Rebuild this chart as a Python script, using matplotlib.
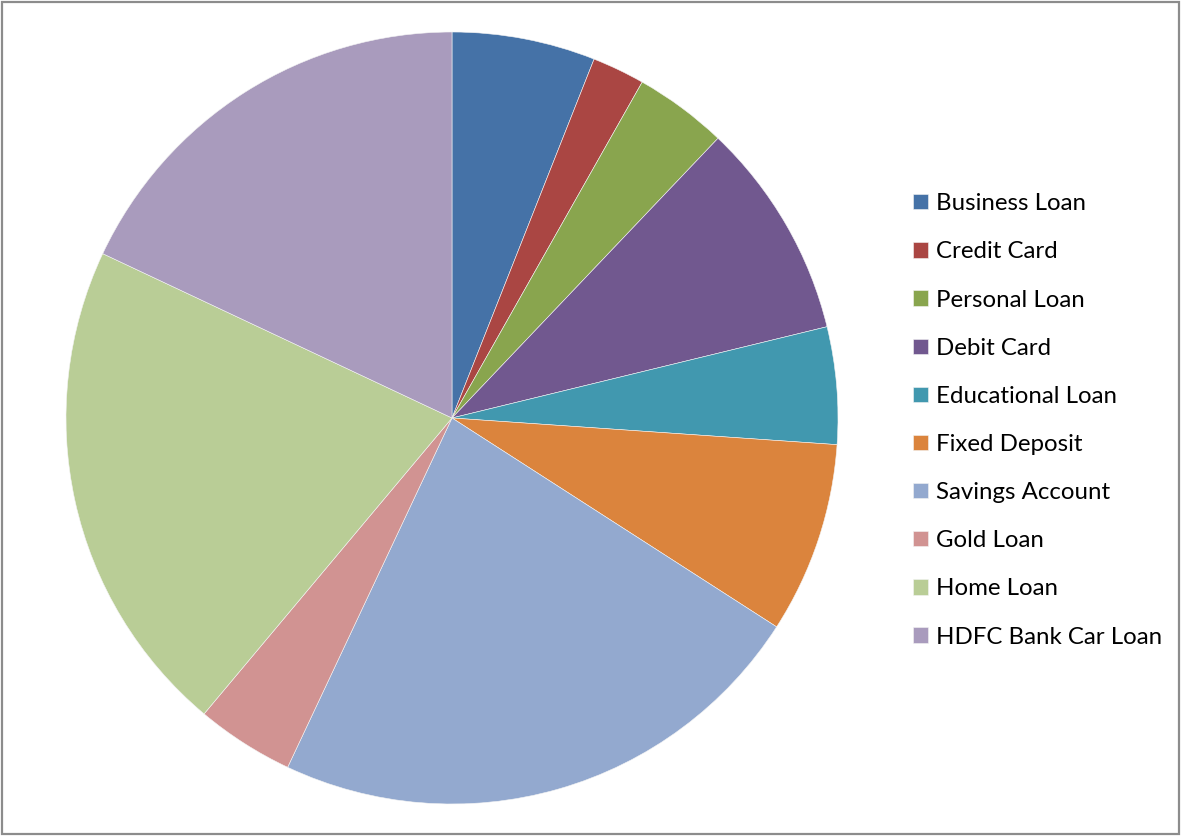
import matplotlib
matplotlib.use("Agg")
import matplotlib.pyplot as plt
from matplotlib.patches import Rectangle

# Share of products (percent), clockwise from 12 o'clock
categories = ["Business Loan", "Credit Card", "Personal Loan", "Debit Card",
              "Educational Loan", "Fixed Deposit", "Savings Account", "Gold Loan",
              "Home Loan", "HDFC Bank Car Loan"]
shares = [6.0, 2.2, 3.9, 9.1, 4.9, 8.0, 22.9, 4.1, 20.9, 18.0]
colors = ["#4572A7", "#AA4643", "#89A54E", "#71588F", "#4198AF",
          "#DB843D", "#93A9CF", "#D19392", "#B9CD96", "#A99BBD"]

W, H = 1181, 836
fig = plt.figure(figsize=(W / 100, H / 100), dpi=100)
fig.patch.set_facecolor("white")

cx, cy, r = 452, 418, 386
ax = fig.add_axes([(cx - r) / W, (H - cy - r) / H, 2 * r / W, 2 * r / H])
wedges, _ = ax.pie(shares, colors=colors, startangle=90, counterclock=False,
                   radius=1.0, wedgeprops=dict(linewidth=0.4, edgecolor="#f4f4f4"))
ax.set_xlim(-1, 1)
ax.set_ylim(-1, 1)
ax.set_aspect("equal")
ax.axis("off")

leg = fig.legend(wedges, categories, loc="upper left",
                 bbox_to_anchor=(894 / W, 1 - 174 / H),
                 frameon=False, prop=dict(family="Lato", size=17.3),
                 handlelength=0.6, handleheight=0.6, handletextpad=0.33,
                 labelspacing=1.13, borderpad=0.3)

# Outer chart frame
fig.add_artist(Rectangle((2 / W, 2 / H), (W - 4) / W, (H - 4) / H,
                         transform=fig.transFigure, fill=False,
                         edgecolor="#8c8c8c", linewidth=1.6))

fig.savefig("out.png", dpi=100)
